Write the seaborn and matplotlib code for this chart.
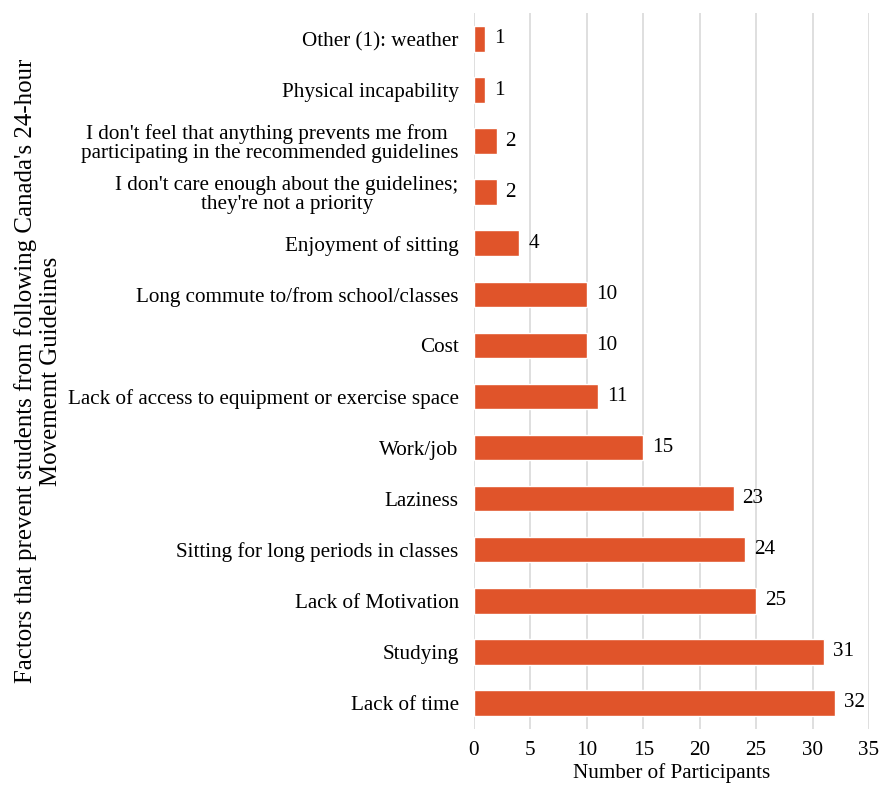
import matplotlib
matplotlib.use("Agg")
import matplotlib.pyplot as plt
import seaborn as sns
import pandas as pd

factors = [
    "Other (1): weather",
    "Physical incapability",
    "I don't feel that anything prevents me from \nparticipating in the recommended guidelines",
    "I don't care enough about the guidelines;\nthey're not a priority",
    "Enjoyment of sitting",
    "Long commute to/from school/classes",
    "Cost",
    "Lack of access to equipment or exercise space",
    "Work/job",
    "Laziness",
    "Sitting for long periods in classes",
    "Lack of Motivation",
    "Studying",
    "Lack of time",
]
participants = [1, 1, 2, 2, 4, 10, 10, 11, 15, 23, 24, 25, 31, 32]
x_ticks = [0, 5, 10, 15, 20, 25, 30, 35]

sns.set_theme(style="white")
plt.rcParams["font.family"] = ["Liberation Serif", "DejaVu Serif"]

df = pd.DataFrame({"factor": factors, "n": participants})

fig = plt.figure(figsize=(8.82, 7.88), dpi=100)
ax = fig.add_axes([0.5374, 0.0755, 0.4479, 0.9075])

sns.barplot(data=df, y="factor", x="n", orient="h", color="#E0542A",
            width=0.5, ax=ax, saturation=1)

fs = 15.2
ax.set_xlim(0, 35)
ax.set_xticks(x_ticks)
ax.xaxis.grid(True, color="#D9D9D9", linewidth=1.2)
ax.set_axisbelow(True)
for s in ax.spines.values():
    s.set_visible(False)

ax.tick_params(axis="x", length=0, labelsize=fs, pad=9, colors="black")
ax.tick_params(axis="y", length=0, labelsize=fs, pad=11, colors="black")
for lbl in ax.get_yticklabels():
    lbl.set_horizontalalignment("right")
    lbl.set_multialignment("center")
    lbl.set_linespacing(1.02)

for i, v in enumerate(participants):
    ax.text(v + 0.8, i, str(v), va="center", ha="left", fontsize=fs, color="black")

ax.set_xlabel("Number of Participants", fontsize=fs, labelpad=2, color="black")
ax.set_ylabel("Factors that prevent students from following Canada's 24-hour\nMovememt Guidelines",
              fontsize=17.9, color="black")
ax.yaxis.label.set_linespacing(1.15)
ax.yaxis.set_label_coords(-1.043, 0.5)

fig.savefig("out.png", dpi=100)
